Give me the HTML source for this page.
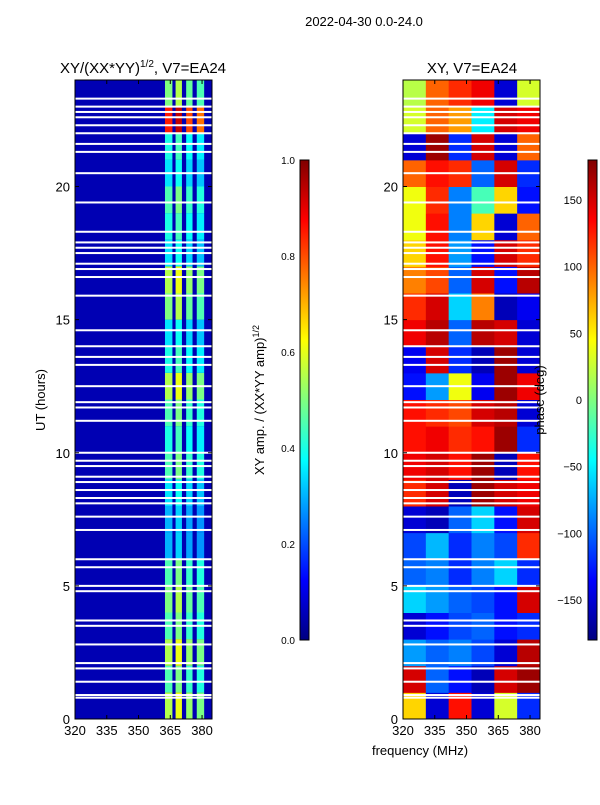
<!DOCTYPE html>
<html><head><meta charset="utf-8"><style>
body{margin:0;background:#fff;}
svg text{font-family:"Liberation Sans","DejaVu Sans",sans-serif;fill:#000;}
</style></head><body>
<svg id="fig" width="600" height="800" xmlns="http://www.w3.org/2000/svg">
<defs>
<linearGradient id="jet" x1="0" y1="1" x2="0" y2="0">
<stop offset="0" stop-color="#000080"/><stop offset="0.125" stop-color="#0000ff"/>
<stop offset="0.375" stop-color="#00ffff"/><stop offset="0.625" stop-color="#ffff00"/>
<stop offset="0.875" stop-color="#ff0000"/><stop offset="1" stop-color="#800000"/>
</linearGradient>
</defs>
<text x="364" y="26" font-size="13" text-anchor="middle">2022-04-30 0.0-24.0</text>
<text x="143" y="73" font-size="15" text-anchor="middle">XY/(XX*YY)<tspan font-size="10" dy="-6">1/2</tspan><tspan dy="6">, V7=EA24</tspan></text>
<text x="472" y="73" font-size="15" text-anchor="middle">XY, V7=EA24</text>
<g id="ampPanel"></g>
<g id="phasePanel"></g>
<g id="axes"></g>
<text transform="translate(45,400) rotate(-90)" font-size="13" text-anchor="middle">UT (hours)</text>
<text x="420" y="755" font-size="13" text-anchor="middle">frequency (MHz)</text>
<rect x="300" y="160" width="9" height="480" fill="url(#jet)" stroke="#000" stroke-width="1"/>
<rect x="588" y="160" width="9" height="480" fill="url(#jet)" stroke="#000" stroke-width="1"/>
<text transform="translate(264,400) rotate(-90)" font-size="13" text-anchor="middle">XY amp. / (XX*YY amp)<tspan font-size="9" dy="-5">1/2</tspan></text>
<text transform="translate(544,400) rotate(-90)" font-size="13" text-anchor="middle">phase (deg)</text>
</svg>
<script>
// Data
const hours = [0,1,2,3,4,5,6,7,8,9,10,11,12,13,14,15,16,17,18,19,20,21,22,23];
const ampRow = [0.55,0.45,0.55,0.45,0.5,0.45,0.3,0.3,0.35,0.45,0.4,0.45,0.55,0.4,0.35,0.5,0.55,0.35,0.4,0.45,0.35,0.4,0.85,0.5];
const stripeFactor = [1.0,1.1,0.95,0.9];
const stripeLo = [362.5,367.5,372.5,377.5];
const stripeHi = [366,370.5,375.5,381];
const phaseRows = [
[60,-150,130,-150,30,-120],[150,-100,-130,-160,150,170],[-80,-100,-90,-110,-150,160],
[-150,-130,-110,-100,-130,-120],[-60,-80,-100,-110,-130,150],[-100,-90,-120,-90,-60,-120],
[-110,-70,-120,-90,-110,120],[-150,-160,-100,-60,-130,150],[120,150,-160,170,150,140],
[140,150,130,170,-160,130],[130,140,120,130,170,-120],[130,120,110,150,160,-150],
[-130,-80,40,-140,170,140],[-140,150,-120,-160,170,-150],[140,160,-100,160,150,-150],
[120,150,-60,90,-160,-140],[90,110,-100,150,-130,160],[60,130,-80,-130,150,120],
[40,130,-90,60,-150,100],[40,120,-90,-20,60,-130],[100,130,120,-100,150,-120],
[-150,170,-120,150,-150,100],[30,100,80,-50,150,140],[20,100,120,140,-150,30]];
const flags = [0.8,0.9,1.4,1.9,2.1,2.8,3.5,3.7,4.8,5.0,5.7,6.0,7.1,7.6,8.1,8.3,8.6,8.9,9.1,9.5,9.7,10.0,11.2,11.7,11.9,12.5,13.3,13.6,14.0,14.6,15.9,16.6,16.9,17.1,17.5,17.7,17.9,18.3,19.4,20.5,21.3,21.6,22.0,22.3,22.6,22.8,23.0,23.3];
const freqTicks = [320,335,350,365,380];
const ampTicks = [0.0,0.2,0.4,0.6,0.8,1.0];
const phaseTicks = [-150,-100,-50,0,50,100,150];
const timeTicks = [0,5,10,15,20];

const NS="http://www.w3.org/2000/svg";
const F0=320,F1=384.7,T0=0,T1=24,PY0=80,PY1=719;
const panels=[{x0:75,x1:212},{x0:403,x1:540}];
function xs(p,f){return p.x0+(f-F0)/(F1-F0)*(p.x1-p.x0);}
function ys(t){return PY1-(t-T0)/(T1-T0)*(PY1-PY0);}
function jet(v){v=Math.max(0,Math.min(1,v));
 const c=(a)=>Math.round(255*Math.max(0,Math.min(1,a)));
 const r=1.5-Math.abs(4*v-3),g=1.5-Math.abs(4*v-2),b=1.5-Math.abs(4*v-1);
 return `rgb(${c(r)},${c(g)},${c(b)})`;}
function mk(tag,attrs,parent){const e=document.createElementNS(NS,tag);for(const k in attrs)e.setAttribute(k,attrs[k]);parent.appendChild(e);return e;}

const ampG=document.getElementById('ampPanel'), phG=document.getElementById('phasePanel'), ax=document.getElementById('axes');
const pa=panels[0], pp=panels[1];
let bg=mk('rect',{x:pa.x0,y:PY0,width:pa.x1-pa.x0,height:PY1-PY0,fill:jet(0.05)},ampG);


hours.forEach((h,i)=>{
 stripeLo.forEach((lo,j)=>{
  const r=mk('rect',{x:xs(pa,lo),y:ys(h+1),width:xs(pa,stripeHi[j])-xs(pa,lo),height:ys(h)-ys(h+1),fill:jet(ampRow[i]*stripeFactor[j])},ampG);
  
  
 });
 phaseRows[i].forEach((v,j)=>{
  const n=phaseRows[i].length, w=(F1-F0)/n;
  const r=mk('rect',{x:xs(pp,F0+j*w),y:ys(h+1),width:xs(pp,F0+(j+1)*w)-xs(pp,F0+j*w)+0.5,height:ys(h)-ys(h+1)+0.5,fill:jet((v+180)/360)},phG);
  
  
 });
});
flags.forEach(f=>{
 panels.forEach(p=>{
  const r=mk('rect',{x:p.x0,y:ys(f)-1,width:p.x1-p.x0,height:2,fill:'#fff'},ax);
  
  
 });
});
panels.forEach(p=>{
 const fr=mk('rect',{x:p.x0,y:PY0,width:p.x1-p.x0,height:PY1-PY0,fill:'none',stroke:'#000','stroke-width':1},ax);
 
 
 freqTicks.forEach(f=>{
  const x=xs(p,f);
  mk('line',{x1:x,x2:x,y1:PY1,y2:PY1-4,stroke:'#000'},ax);
  mk('line',{x1:x,x2:x,y1:PY0,y2:PY0+4,stroke:'#000'},ax);
  const t=mk('text',{x:x,y:PY1+16,'font-size':13,'text-anchor':'middle'},ax);
  t.textContent=f;
  
  
 });
 timeTicks.forEach(h=>{
  const y=ys(h);
  mk('line',{x1:p.x0,x2:p.x0+4,y1:y,y2:y,stroke:'#000'},ax);
  mk('line',{x1:p.x1,x2:p.x1-4,y1:y,y2:y,stroke:'#000'},ax);
  const t=mk('text',{x:p.x0-5,y:y+5,'font-size':13,'text-anchor':'end'},ax);
  t.textContent=h;
  
  
 });
});
ampTicks.forEach(v=>{
 const y=640-v*480;
 mk('line',{x1:300,x2:303,y1:y,y2:y,stroke:'#000'},ax);
 const t=mk('text',{x:295,y:y+4,'font-size':10,'text-anchor':'end'},ax);
 t.textContent=v.toFixed(1);
 
 
});
phaseTicks.forEach(v=>{
 const y=640-(v+180)/360*480;
 mk('line',{x1:588,x2:591,y1:y,y2:y,stroke:'#000'},ax);
 const t=mk('text',{x:582,y:y+4,'font-size':11,'text-anchor':'end'},ax);
 t.textContent=v<0?'\u2212'+(-v):v;
 
 
});
</script>
</body></html>
